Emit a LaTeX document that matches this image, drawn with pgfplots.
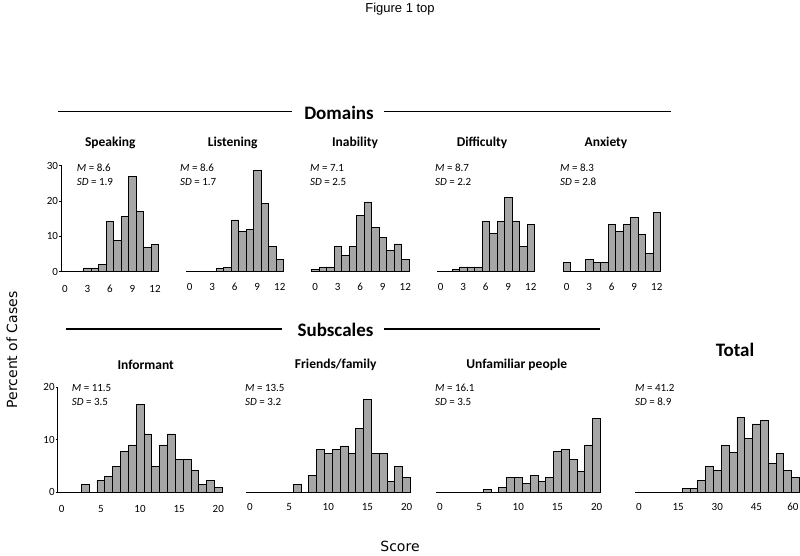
\documentclass[border=0pt]{standalone}
\usepackage{fontspec}
\setmainfont{Carlito}
\newfontfamily\arialf{Liberation Sans}
\newfontfamily\verf{DejaVu Sans}
\usepackage{pgfplots}
\pgfplotsset{compat=1.18}
\definecolor{barfill}{RGB}{166,166,166}
\pgfplotsset{
  hist/.style={scale only axis, ymin=0, axis x line*=bottom,
    axis line style={line width=0.8pt, black},
    tick label style={font=\fontsize{11}{13}\selectfont},
    /pgf/number format/assume math mode=true,
    xtick style={draw=none},
    xticklabel style={anchor=center, yshift=-15pt, inner sep=0pt},
    anchor=south west, clip=false},
  noy/.style={axis y line=none, ytick=\empty},
  top/.style={hist, width=97.5pt, height=106pt, xmin=-0.5, xmax=12.5, ymax=30, xtick={0,3,6,9,12}},
  bot/.style={hist, width=164.4pt, height=104.7pt, xmin=-0.5, xmax=20.5, ymax=20, xtick={0,5,10,15,20}},
  withy/.style={axis y line*=left, ytick style={line width=0.6pt, black}, tick align=outside,
    major tick length=2pt, yticklabel style={anchor=east, inner sep=0pt, xshift=-1pt}},
  bars/.style={ybar, bar width=1, bar shift=0pt, fill=barfill, draw=black, line width=0.75pt},
}
\newcommand{\ttl}[1]{\fontsize{13.5}{15}\selectfont\bfseries #1}
\newcommand{\msd}{\fontsize{11}{13}\selectfont}
\begin{document}
\begin{tikzpicture}[x=1pt,y=1pt]
\path[use as bounding box] (0,0) rectangle (800,556);
% header texts
\node[font=\arialf\fontsize{13}{15}\selectfont] at (400,547) {Figure 1 top};
\draw[line width=1.8pt] (58,444.5) -- (292,444.5);
\draw[line width=1.8pt] (384,444.5) -- (671,444.5);
\node[font=\fontsize{19}{21}\selectfont\bfseries] at (339,443.5) {Domains};
\draw[line width=1.8pt] (66,227) -- (282,227);
\draw[line width=1.8pt] (384,227) -- (600,227);
\node[font=\fontsize{19}{21}\selectfont\bfseries] at (335.5,226) {Subscales};
\node[font=\fontsize{19}{21}\selectfont\bfseries] at (735,206) {Total};
\node[rotate=90, font=\verf\fontsize{14}{16}\selectfont] at (12,206) {Percent of Cases};
\node[font=\verf\fontsize{14}{16}\selectfont] at (400,10) {Score};

% ---------- top row ----------
\begin{axis}[top, withy, ytick={0,10,20,30}, at={(61.25pt,284.5pt)}]
\addplot[bars] coordinates {(3,1.0)(4,1.0)(5,2.1)(6,14.2)(7,8.9)(8,15.7)(9,26.9)(10,17.1)(11,6.8)(12,7.6)};
\end{axis}
\begin{axis}[top, noy, at={(186pt,284.5pt)}]
\addplot[bars] coordinates {(4,0.8)(5,1.2)(6,14.6)(7,11.3)(8,12.0)(9,28.7)(10,19.3)(11,7.0)(12,3.4)};
\end{axis}
\begin{axis}[top, noy, at={(311.5pt,284.5pt)}]
\addplot[bars] coordinates {(0,0.7)(1,1.3)(2,1.3)(3,7.2)(4,4.5)(5,7.2)(6,15.8)(7,19.7)(8,12.5)(9,9.6)(10,5.9)(11,7.8)(12,3.4)};
\end{axis}
\begin{axis}[top, noy, at={(437pt,284.5pt)}]
\addplot[bars] coordinates {(2,0.7)(3,1.3)(4,1.3)(5,1.3)(6,14.2)(7,10.7)(8,14.2)(9,20.9)(10,14.2)(11,7.0)(12,13.2)};
\end{axis}
\begin{axis}[top, noy, at={(563pt,284.5pt)}]
\addplot[bars] coordinates {(0,2.6)(3,3.3)(4,2.5)(5,2.5)(6,13.2)(7,11.4)(8,13.2)(9,15.2)(10,10.5)(11,5.2)(12,16.6)};
\end{axis}

% ---------- bottom row ----------
\begin{axis}[bot, withy, ytick={0,10,20}, at={(57.8pt,64pt)}]
\addplot[bars] coordinates {(3,1.5)(5,2.2)(6,2.9)(7,4.9)(8,7.7)(9,9.0)(10,16.7)(11,11.1)(12,4.9)(13,9.0)(14,11.1)(15,6.2)(16,6.2)(17,4.2)(18,1.5)(19,2.2)(20,0.9)};
\end{axis}
\begin{axis}[bot, noy, at={(246.1pt,64pt)}]
\addplot[bars] coordinates {(6,1.4)(8,3.2)(9,8.2)(10,7.4)(11,8.1)(12,8.8)(13,7.4)(14,12.2)(15,17.6)(16,7.4)(17,7.4)(18,2.1)(19,4.8)(20,2.7)};
\end{axis}
\begin{axis}[bot, noy, at={(436.1pt,64pt)}]
\addplot[bars] coordinates {(6,0.5)(8,0.9)(9,2.7)(10,2.7)(11,1.7)(12,3.1)(13,2.1)(14,2.7)(15,7.7)(16,8.1)(17,6.2)(18,4.0)(19,9.0)(20,14.0)};
\end{axis}
\begin{axis}[bot, noy, xmin=-1.5, xmax=61.5, xtick={0,15,30,45,59}, xticklabels={0,15,30,45,60}, at={(635.1pt,64pt)}]
\addplot[bars, bar width=3] coordinates {(18,0.7)(21,0.7)(24,2.2)(27,4.9)(30,4.1)(33,8.9)(36,7.5)(39,14.3)(42,10.3)(45,13.0)(48,13.6)(51,5.5)(54,7.3)(57,4.1)(60,2.8)};
\end{axis}

% ---------- panel titles ----------
\node[font=\ttl{}] at (110.3,413) {Speaking};
\node[font=\ttl{}] at (232.7,413) {Listening};
\node[font=\ttl{}] at (355,413) {Inability};
\node[font=\ttl{}] at (482,413) {Difficulty};
\node[font=\ttl{}] at (606,413) {Anxiety};
\node[font=\ttl{}] at (145.7,191) {Informant};
\node[font=\ttl{}] at (335.7,191) {Friends/family};
\node[font=\ttl{}] at (516.7,191) {Unfamiliar people};

% ---------- M / SD ----------
\foreach \x/\m/\s in {76.7/8.6/1.9, 180/8.6/1.7, 310/7.1/2.5, 435/8.7/2.2, 560/8.3/2.8}{
  \node[anchor=west, inner sep=0pt, font=\msd] at (\x,388) {\textit{M} = \m};
  \node[anchor=west, inner sep=0pt, font=\msd] at (\x,374.5) {\textit{SD} = \s};
}
\foreach \x/\m/\s in {71.7/11.5/3.5, 245/13.5/3.2, 435/16.1/3.5, 635/41.2/8.9}{
  \node[anchor=west, inner sep=0pt, font=\msd] at (\x,168) {\textit{M} = \m};
  \node[anchor=west, inner sep=0pt, font=\msd] at (\x,154) {\textit{SD} = \s};
}
\end{tikzpicture}
\end{document}
